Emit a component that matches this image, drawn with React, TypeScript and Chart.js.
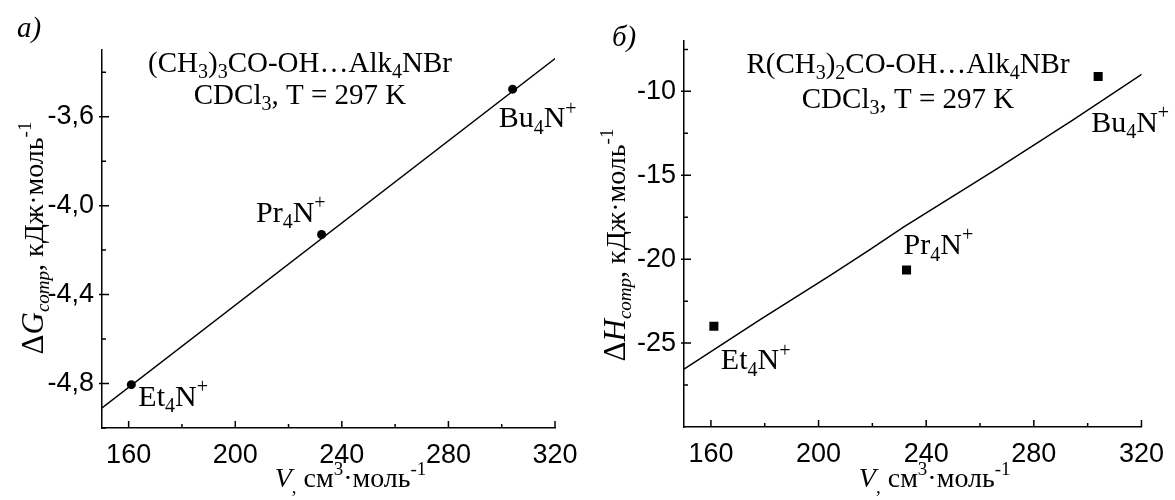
import React, { useEffect, useRef } from 'react';
import { Chart, registerables } from 'chart.js';

Chart.register(...registerables);

// ---------- Data: panel а (ΔG) ----------
const volumeA = [161, 232.4, 304.1];
const dGcomp = [-4.805, -4.13, -3.476];
const fitAx = [150, 320.4];
const fitAy = [-4.91, -3.335];
const yTicksA = [-4.8, -4.4, -4.0, -3.6];
const yMinorA = [-5.0, -4.6, -4.2, -3.8, -3.4];

// ---------- Data: panel б (ΔH) ----------
const volumeB = [161.1, 232.7, 303.9];
const dHcomp = [-24.0, -20.65, -9.12];
const fitBx = [150, 178, 204.5, 218.8, 231.7, 266.4, 294.3, 320.4];
const fitBy = [-26.55, -23.63, -20.95, -19.46, -18.08, -14.6, -11.73, -8.95];
const yTicksB = [-25, -20, -15, -10];
const yMinorB = [-27.5, -22.5, -17.5, -12.5, -7.5];

// ---------- Shared ----------
const xTicks = [160, 200, 240, 280, 320];
const xMinor = [180, 220, 260, 300];
const ions = ['Et', 'Pr', 'Bu'];

const SERIF = '"Liberation Serif", "Times New Roman", serif';
const SANS = '"Liberation Sans Narrow", "Arial Narrow", "Liberation Sans", Arial, sans-serif';

type Seg = { t: string; it?: boolean; sub?: boolean; sup?: boolean; scale?: number };

function drawRich(
  ctx: CanvasRenderingContext2D,
  segs: Seg[],
  x: number,
  y: number,
  size: number,
  align: 'left' | 'center' | 'right'
) {
  const fontFor = (s: Seg) =>
    `${s.it ? 'italic ' : ''}${Math.round((s.sub || s.sup ? 0.68 : 1) * size * (s.scale || 1))}px ${SERIF}`;
  let total = 0;
  const widths = segs.map((s) => {
    ctx.font = fontFor(s);
    const w = ctx.measureText(s.t).width;
    total += w;
    return w;
  });
  let cx = align === 'left' ? x : align === 'center' ? x - total / 2 : x - total;
  ctx.textAlign = 'left';
  ctx.textBaseline = 'alphabetic';
  segs.forEach((s, i) => {
    ctx.font = fontFor(s);
    const dy = s.sub ? 0.22 * size : s.sup ? -0.42 * size : 0;
    ctx.fillText(s.t, cx, y + dy);
    cx += widths[i];
  });
}

const ionSegs = (name: string): Seg[] => [{ t: name }, { t: '4', sub: true }, { t: 'N' }, { t: '+', sup: true }];

interface PanelCfg {
  xs: number[];
  ys: number[];
  fx: number[];
  fy: number[];
  yMin: number;
  yMax: number;
  yTicks: number[];
  yMinor: number[];
  fmt: (v: number) => string;
  pointStyle: 'circle' | 'rect';
  pointRadius: number;
  yAxisWidth: number;
  xAxisHeight: number;
  padTop: number;
  padRight: number;
  panelLabel: string;
  panelLabelPos: [number, number];
  line1: Seg[];
  line2: Seg[];
  annX: number;
  annY: [number, number];
  labelOffsets: { dx: number; dy: number; align: 'left' | 'right' }[];
  yTitle: Seg[];
  yTitleX: number;
  yTitleCY: number;
  xTitleDX: number;
  xTitleY: number;
}

const annotPlugin = {
  id: 'annot',
  afterDraw(chart: any, _args: any, opts: any) {
    const cfg: PanelCfg = opts.cfg;
    if (!cfg) return;
    const ctx: CanvasRenderingContext2D = chart.ctx;
    const xs = chart.scales.x;
    const ys = chart.scales.y;
    const area = chart.chartArea;
    ctx.save();
    ctx.strokeStyle = '#000';
    ctx.fillStyle = '#000';
    ctx.lineWidth = 1.5;
    // inward tick marks
    ctx.beginPath();
    xTicks.forEach((v) => {
      const p = xs.getPixelForValue(v);
      ctx.moveTo(p, area.bottom);
      ctx.lineTo(p, area.bottom - 7);
    });
    xMinor.forEach((v) => {
      const p = xs.getPixelForValue(v);
      ctx.moveTo(p, area.bottom);
      ctx.lineTo(p, area.bottom - 4);
    });
    cfg.yTicks.forEach((v) => {
      const p = ys.getPixelForValue(v);
      ctx.moveTo(area.left - 3, p);
      ctx.lineTo(area.left + 7, p);
    });
    cfg.yMinor.forEach((v) => {
      const p = ys.getPixelForValue(v);
      ctx.moveTo(area.left, p);
      ctx.lineTo(area.left + 4, p);
    });
    ctx.stroke();

    // panel label
    drawRich(ctx, [{ t: cfg.panelLabel, it: true }], cfg.panelLabelPos[0], cfg.panelLabelPos[1], 29, 'left');
    // annotation
    drawRich(ctx, cfg.line1, cfg.annX, cfg.annY[0], 29, 'center');
    drawRich(ctx, cfg.line2, cfg.annX, cfg.annY[1], 29, 'center');
    // point labels
    cfg.xs.forEach((v, i) => {
      const px = xs.getPixelForValue(v);
      const py = ys.getPixelForValue(cfg.ys[i]);
      const o = cfg.labelOffsets[i];
      drawRich(ctx, ionSegs(ions[i]), px + o.dx, py + o.dy, 30, o.align);
    });
    // x title
    drawRich(
      ctx,
      [
        { t: 'V', it: true },
        { t: ',', sub: true },
        { t: ' см' },
        { t: '3', sup: true },
        { t: '·моль' },
        { t: '-1', sup: true },
      ],
      (area.left + area.right) / 2 + cfg.xTitleDX,
      cfg.xTitleY,
      28,
      'center'
    );
    // y title (rotated)
    ctx.translate(cfg.yTitleX, cfg.yTitleCY);
    ctx.rotate(-Math.PI / 2);
    drawRich(ctx, cfg.yTitle, 0, 0, 28, 'center');
    ctx.restore();
  },
};

function Panel({ cfg, width, left }: { cfg: PanelCfg; width: number; left: number }) {
  const ref = useRef<HTMLCanvasElement | null>(null);
  useEffect(() => {
    if (!ref.current) return;
    const chart = new Chart(ref.current, {
      type: 'scatter',
      data: {
        datasets: [
          {
            data: cfg.fx.map((x, i) => ({ x, y: cfg.fy[i] })),
            showLine: true,
            borderColor: '#000',
            borderWidth: 1.5,
            pointRadius: 0,
            fill: false,
          },
          {
            data: cfg.xs.map((x, i) => ({ x, y: cfg.ys[i] })),
            showLine: false,
            pointStyle: cfg.pointStyle,
            pointRadius: cfg.pointRadius,
            backgroundColor: '#000',
            borderColor: '#000',
            borderWidth: 0,
          },
        ],
      },
      options: {
        responsive: false,
        animation: false,
        layout: { padding: { top: cfg.padTop, right: cfg.padRight, left: 0, bottom: 0 } },
        plugins: {
          legend: { display: false },
          tooltip: { enabled: false },
          annot: { cfg },
        } as any,
        scales: {
          x: {
            type: 'linear',
            min: 150,
            max: 320,
            afterBuildTicks: (s: any) => {
              s.ticks = xTicks.map((v) => ({ value: v }));
            },
            afterFit: (s: any) => {
              s.height = cfg.xAxisHeight;
            },
            grid: { display: false, drawTicks: false },
            border: { display: true, color: '#000', width: 1.5 },
            ticks: {
              color: '#000',
              padding: 11,
              maxRotation: 0,
              font: { family: SANS, size: 27 },
              callback: (v: any) => String(v),
            },
          },
          y: {
            type: 'linear',
            min: cfg.yMin,
            max: cfg.yMax,
            afterBuildTicks: (s: any) => {
              s.ticks = cfg.yTicks.map((v) => ({ value: v }));
            },
            afterFit: (s: any) => {
              s.width = cfg.yAxisWidth;
            },
            grid: { display: false, drawTicks: false },
            border: { display: true, color: '#000', width: 1.5 },
            ticks: {
              color: '#000',
              padding: 8,
              font: { family: SANS, size: 27 },
              callback: (v: any) => cfg.fmt(Number(v)),
            },
          },
        },
      },
      plugins: [annotPlugin],
    });
    return () => chart.destroy();
  }, [cfg]);
  return (
    <canvas
      ref={ref}
      width={width}
      height={500}
      style={{ position: 'absolute', left, top: 0, width, height: 500 }}
    />
  );
}

const cfgA: PanelCfg = {
  xs: volumeA,
  ys: dGcomp,
  fx: fitAx,
  fy: fitAy,
  yMin: -5.0,
  yMax: -3.3,
  yTicks: yTicksA,
  yMinor: yMinorA,
  fmt: (v) => v.toFixed(1).replace('.', ','),
  pointStyle: 'circle',
  pointRadius: 4.5,
  yAxisWidth: 102,
  xAxisHeight: 72,
  padTop: 50,
  padRight: 35,
  panelLabel: 'а)',
  panelLabelPos: [17, 37],
  line1: [
    { t: '(CH' },
    { t: '3', sub: true },
    { t: ')' },
    { t: '3', sub: true },
    { t: 'CO-OH…Alk' },
    { t: '4', sub: true },
    { t: 'NBr' },
  ],
  line2: [{ t: 'CDCl' }, { t: '3', sub: true }, { t: ', T = 297 K' }],
  annX: 300,
  annY: [72, 104],
  labelOffsets: [
    { dx: 7, dy: 21, align: 'left' },
    { dx: 4, dy: -13, align: 'right' },
    { dx: -14, dy: 38, align: 'left' },
  ],
  yTitle: [
    { t: 'Δ', scale: 1.1 },
    { t: 'G', it: true, scale: 1.1 },
    { t: 'comp', it: true, sub: true },
    { t: ', кДж·моль' },
    { t: '-1', sup: true },
  ],
  yTitleX: 43,
  yTitleCY: 238,
  xTitleDX: 22,
  xTitleY: 487,
};

const cfgB: PanelCfg = {
  xs: volumeB,
  ys: dHcomp,
  fx: fitBx,
  fy: fitBy,
  yMin: -30,
  yMax: -7,
  yTicks: yTicksB,
  yMinor: yMinorB,
  fmt: (v) => String(v),
  pointStyle: 'rect',
  pointRadius: 6.4,
  yAxisWidth: 94,
  xAxisHeight: 73,
  padTop: 41,
  padRight: 29,
  panelLabel: 'б)',
  panelLabelPos: [22, 46],
  line1: [
    { t: 'R(CH' },
    { t: '3', sub: true },
    { t: ')' },
    { t: '2', sub: true },
    { t: 'CO-OH…Alk' },
    { t: '4', sub: true },
    { t: 'NBr' },
  ],
  line2: [{ t: 'CDCl' }, { t: '3', sub: true }, { t: ', T = 297 K' }],
  annX: 318,
  annY: [73, 108],
  labelOffsets: [
    { dx: 7, dy: 43, align: 'left' },
    { dx: -3, dy: -16, align: 'left' },
    { dx: -7, dy: 55, align: 'left' },
  ],
  yTitle: [
    { t: 'Δ', scale: 1.1 },
    { t: 'H', it: true, scale: 1.1 },
    { t: 'comp', it: true, sub: true },
    { t: ', кДж·моль' },
    { t: '-1', sup: true },
  ],
  yTitleX: 35,
  yTitleCY: 245,
  xTitleDX: 22,
  xTitleY: 487,
};

export default function App() {
  return (
    <div style={{ position: 'absolute', left: 0, top: 0, width: 1175, height: 500, background: '#fff' }}>
      <Panel cfg={cfgA} width={590} left={0} />
      <Panel cfg={cfgB} width={585} left={590} />
    </div>
  );
}
